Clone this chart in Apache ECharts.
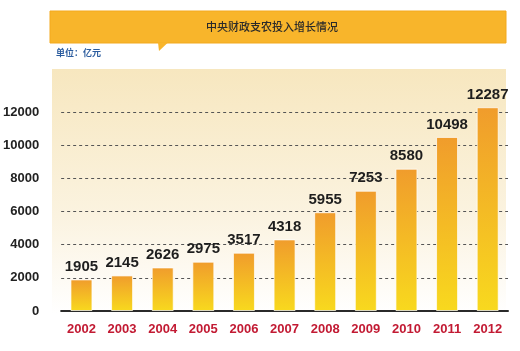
<!DOCTYPE html>
<html>
<head>
<meta charset="utf-8">
<script src="https://cdn.jsdelivr.net/npm/echarts@6/dist/echarts.min.js"></script>
<style>
  html, body { margin: 0; padding: 0; background: #fff; }
  #chart { width: 520px; height: 351px; }
</style>
</head>
<body>
<div id="chart"></div>
<script>
  const years = ['2002', '2003', '2004', '2005', '2006', '2007', '2008', '2009', '2010', '2011', '2012'];
  const amounts = [1905, 2145, 2626, 2975, 3517, 4318, 5955, 7253, 8580, 10498, 12287];
  const titleText = '中央财政支农投入增长情况';
  const unitText = '单位：亿元';

  const myChart = echarts.init(document.getElementById('chart'));

  const option = {
    backgroundColor: '#fff',
    animation: false,
    graphic: [
      // 浅黄色背景
      {
        type: 'rect',
        z: -10,
        shape: { x: 52, y: 69, width: 454, height: 245 },
        style: {
          fill: {
            type: 'linear', x: 0, y: 0, x2: 0, y2: 1,
            colorStops: [
              { offset: 0, color: '#F7E7BF' },
              { offset: 0.6, color: '#FBF3E0' },
              { offset: 1, color: '#FFFFFF' }
            ]
          }
        }
      },
      // 标题条
      {
        type: 'rect',
        shape: { x: 50, y: 11, width: 456, height: 32 },
        style: { fill: '#F8B52B', stroke: '#F3A91F', lineWidth: 1 }
      },
      {
        type: 'polygon',
        shape: { points: [[158, 42.5], [168, 42.5], [159, 51]] },
        style: { fill: '#F8B52B' }
      },
      {
        type: 'text',
        left: 206,
        top: 21,
        style: {
          text: titleText,
          fill: '#2a2a2a',
          font: '500 11px "Noto Sans CJK SC"'
        }
      },
      {
        type: 'text',
        left: 56,
        top: 48,
        style: {
          text: unitText,
          fill: '#2B5C9E',
          font: 'bold 9px "Noto Sans CJK SC"'
        }
      }
    ],
    grid: {
      left: 61,
      right: 12,
      top: 112,
      bottom: 40
    },
    xAxis: {
      type: 'category',
      data: years,
      axisLine: { lineStyle: { color: '#2a2a2a', width: 2 } },
      axisTick: { show: false },
      axisLabel: {
        color: '#C21A33',
        fontWeight: 'bold',
        fontSize: 13,
        fontFamily: 'Liberation Sans',
        margin: 12
      }
    },
    yAxis: {
      type: 'value',
      min: 0,
      max: 12000,
      interval: 2000,
      axisLine: { show: false },
      axisTick: { show: false },
      axisLabel: {
        formatter: v => String(v),
        color: '#222',
        fontWeight: 'bold',
        fontSize: 13,
        fontFamily: 'Liberation Sans',
        margin: 22
      },
      splitLine: {
        lineStyle: { color: '#555', type: [3, 3], width: 1 }
      }
    },
    series: [
      {
        type: 'bar',
        data: amounts,
        barWidth: 22,
        clip: false,
        itemStyle: {
          borderColor: 'rgba(255,255,255,0.7)',
          borderWidth: 1,
          color: {
            type: 'linear', x: 0, y: 0, x2: 0, y2: 1,
            colorStops: [
              { offset: 0, color: '#F09C2C' },
              { offset: 1, color: '#F8D91E' }
            ]
          }
        },
        label: {
          show: true,
          position: 'top',
          distance: 5,
          color: '#1e1e1e',
          fontWeight: 'bold',
          fontSize: 15,
          fontFamily: 'Liberation Sans'
        }
      }
    ]
  };

  myChart.setOption(option);
</script>
</body>
</html>
